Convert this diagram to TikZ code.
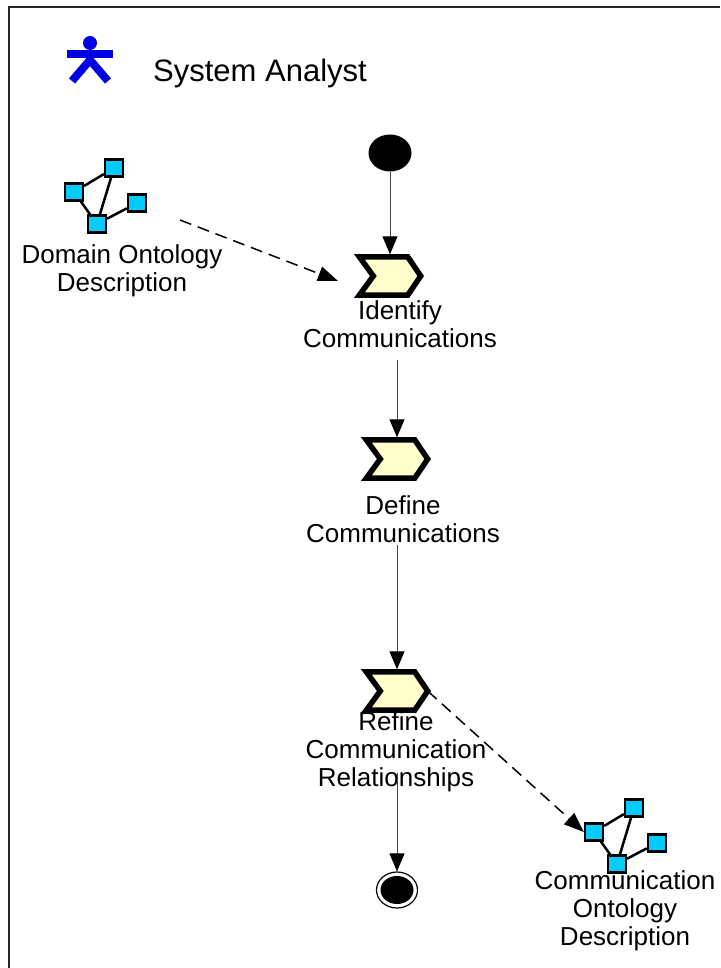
\documentclass[tikz,border=0pt]{standalone}
\usepackage{fontspec}
\setmainfont{Liberation Sans}
\usetikzlibrary{arrows.meta,shapes.geometric}
\definecolor{chevfill}{RGB}{255,255,204}
\definecolor{ontocyan}{RGB}{0,204,255}
\definecolor{actorblue}{RGB}{0,0,230}
\definecolor{flowgray}{RGB}{70,70,70}
\newcommand\chevron[2]{%
  \node[chevbox] (#1) at (#2) {};
  \draw[chevline] (#1.north west) -- ([xshift=-13pt]#1.north east) -- (#1.east)
    -- ([xshift=-13pt]#1.south east) -- (#1.south west) -- ([xshift=14pt]#1.west) -- cycle;}
\newcommand\ontoicon[3]{%
  \begin{scope}[shift={(#2,#3)}]
    \node[osq] (#1a) at (74,192) {};
    \node[osq] (#1b) at (114,168) {};
    \node[osq] (#1c) at (137,203) {};
    \node[osq] (#1d) at (97,224) {};
    \draw[olink] (#1a) -- (#1b);
    \draw[olink] (#1a) -- (#1d);
    \draw[olink] (#1b) -- (#1d);
    \draw[olink] (#1d) -- (#1c);
  \end{scope}}
\begin{document}
\begin{tikzpicture}[x=1pt,y=-1pt,
  lbl/.style={align=center,font=\fontsize{26}{28}\selectfont,inner sep=0pt},
  chevbox/.style={minimum width=61pt,minimum height=38pt,inner sep=0pt,draw=none},
  chevline/.style={draw=black,line width=5.5pt,fill=chevfill,line join=miter},
  osq/.style={draw=black,line width=2.2pt,fill=ontocyan,minimum width=18pt,minimum height=17pt,inner sep=0pt},
  olink/.style={draw=black,line width=2.5pt},
  flow/.style={draw=flowgray,line width=1pt,-{Triangle[length=18pt,width=15pt,color=black]}},
  dflow/.style={draw=black,line width=1.5pt,dash pattern=on 12pt off 7pt,-{Triangle[length=20pt,width=15pt,color=black]}}
]
\useasboundingbox (0,0) rectangle (720,968);
% frame
\draw[line width=1.5pt,draw=black!85] (9,968) -- (9,7) -- (720,7);
% actor
\fill[actorblue] (90,43) circle (7pt);
\fill[actorblue] (67,50) rectangle (113,58);
\draw[actorblue,line width=8pt] (72,81) -- (90,60) -- (108,81);
\node[anchor=base west,font=\fontsize{31}{36}\selectfont,inner sep=0pt] (role) at (153,82) {System Analyst};
% start / end
\node[ellipse,fill=black,minimum width=43pt,minimum height=37pt,inner sep=0pt] (start) at (390,153) {};
\node[ellipse,draw=black,line width=1.2pt,minimum width=41pt,minimum height=36pt,inner sep=0pt] (fin) at (397,890) {};
\node[ellipse,fill=black,minimum width=33pt,minimum height=28pt,inner sep=0pt] (fincore) at (fin) {};
% activities
\chevron{c1}{390,276}
\chevron{c2}{397,459}
\chevron{c3}{397,691}
\node[lbl] (l1) at (400,324) {Identify\\Communications};
\node[lbl] (l2) at (403,519) {Define\\Communications};
\node[lbl] (l3) at (396,752) {Refine\\Communication\\Relationships};
% ontology icons
\ontoicon{o1}{0}{0}
\ontoicon{o2}{520}{640}
\node[lbl] (lo1) at (122,271) {Domain Ontology\\Description};
\node[lbl] (lo2) at (625,911) {Communication\\Ontology\\Description};
% connectors
\coordinate (s2) at (397,360);
\coordinate (s3) at (397,545);
\coordinate (s4) at (397,773);
\coordinate (d1s) at (180,220);
\coordinate (d1e) at (338,281);
\draw[flow,shorten >=2.5pt] (start.south) -- (c1.north);
\draw[flow,shorten >=2.5pt] (s2) -- (c2.north);
\draw[flow,shorten >=2.5pt] (s3) -- (c3.north);
\draw[flow] (s4) -- (fin.north);
\draw[dflow] (d1s) -- (d1e);
\draw[dflow] (c3.east) -- (o2a.west);
\end{tikzpicture}
\end{document}
